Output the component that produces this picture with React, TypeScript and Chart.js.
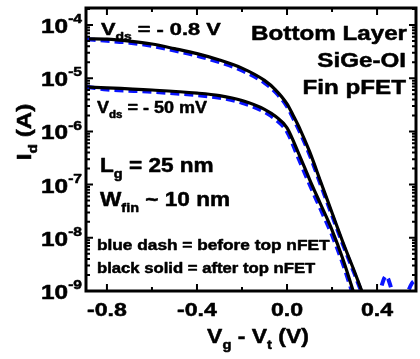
import React, { useEffect, useRef } from "react";
import { Chart, registerables } from "chart.js";
Chart.register(...registerables);

// ---- data (Vg - Vt in V, Id in A) ----
const vgAfter08 = [-0.88, -0.8, -0.7, -0.6, -0.5, -0.4, -0.3, -0.2, -0.1, -0.05, 0.0, 0.03, 0.06, 0.1, 0.15, 0.2, 0.25, 0.3, 0.35];
const idAfter08 = [5.5e-5, 5.43e-5, 5.0e-5, 4.4e-5, 3.6e-5, 2.9e-5, 2.2e-5, 1.55e-5, 9.1e-6, 6.0e-6, 3.3e-6, 1.9e-6, 1.05e-6, 4.2e-7, 1.12e-7, 2.95e-8, 7.9e-9, 2.3e-9, 6.3e-10];

const vgAfter50 = [-0.88, -0.8, -0.6, -0.4, -0.3, -0.2, -0.1, -0.05, 0.0, 0.05, 0.1, 0.15, 0.2, 0.25, 0.3];
const idAfter50 = [6.8e-6, 6.6e-6, 6.0e-6, 5.25e-6, 4.7e-6, 3.8e-6, 2.6e-6, 1.9e-6, 1.17e-6, 4.0e-7, 1.26e-7, 4.2e-8, 1.4e-8, 3.8e-9, 8.3e-10];

const vgBefore08 = [-0.89, -0.8, -0.7, -0.6, -0.5, -0.4, -0.3, -0.2, -0.1, -0.05, 0.0, 0.03, 0.06, 0.1, 0.15, 0.2, 0.25, 0.3, 0.35];
const idBefore08 = [5.4e-5, 5.05e-5, 4.65e-5, 4.05e-5, 3.3e-5, 2.65e-5, 2.0e-5, 1.4e-5, 8.2e-6, 5.4e-6, 2.95e-6, 1.68e-6, 9.2e-7, 3.7e-7, 9.9e-8, 2.65e-8, 7.2e-9, 2.1e-9, 5.8e-10];

const vgBefore50 = [-0.89, -0.8, -0.6, -0.4, -0.3, -0.2, -0.1, -0.05, 0.0, 0.05, 0.1, 0.15, 0.2, 0.25, 0.3, 0.34, 0.38, 0.41, 0.44, 0.47, 0.5, 0.53, 0.555, 0.575];
const idBefore50 = [6.9e-6, 6.15e-6, 5.55e-6, 4.8e-6, 4.3e-6, 3.45e-6, 2.33e-6, 1.67e-6, 9.9e-7, 3.2e-7, 1.02e-7, 3.4e-8, 1.13e-8, 3.1e-9, 7.0e-10, 2.5e-10, 3.2e-10, 8.9e-10, 1.9e-9, 8.9e-10, 3.2e-10, 7.9e-10, 1.4e-9, 1.6e-9];

const xMajorTicks = [-0.8, -0.4, 0.0, 0.4];
const xTickLabels = ["-0.8", "-0.4", "0.0", "0.4"];
const xMinorTicks = [-0.6, -0.2, 0.2];
const yExponents = [-9, -8, -7, -6, -5, -4];

const X_MIN = -0.893;
const X_MAX = 0.573;
const Y_MIN = 1e-9;
const Y_MAX = 2.09e-4;

const FONT = '"Liberation Sans", Arial, Helvetica, sans-serif';

type Seg = [string, "" | "sub" | "sup"];

function segFont(size: number, kind: string) {
  const s = kind === "" ? size : size * 0.64;
  return `bold ${s}px ${FONT}`;
}

function drawRich(
  ctx: CanvasRenderingContext2D,
  segs: Seg[],
  x: number,
  y: number,
  size: number,
  align: "left" | "right" | "center",
  sx: number
) {
  ctx.save();
  ctx.translate(x, y);
  ctx.scale(sx, 1);
  ctx.fillStyle = "#000";
  ctx.strokeStyle = "#000";
  ctx.lineWidth = 0.5;
  ctx.lineJoin = "round";
  ctx.textBaseline = "alphabetic";
  ctx.textAlign = "left";
  let w = 0;
  for (const [t, k] of segs) {
    ctx.font = segFont(size, k);
    w += ctx.measureText(t).width;
  }
  let cx = align === "left" ? 0 : align === "right" ? -w : -w / 2;
  for (const [t, k] of segs) {
    ctx.font = segFont(size, k);
    const dy = k === "sub" ? size * 0.3 : k === "sup" ? -size * 0.5 : 0;
    ctx.fillText(t, cx, dy);
    ctx.strokeText(t, cx, dy);
    cx += ctx.measureText(t).width;
  }
  ctx.restore();
}

const framePlugin = {
  id: "frameTicks",
  afterDatasetsDraw(chart: any) {
    const ctx: CanvasRenderingContext2D = chart.ctx;
    const { left, right, top, bottom } = chart.chartArea;
    const xs = chart.scales.x;
    const ys = chart.scales.y;
    ctx.save();
    ctx.strokeStyle = "#000";
    ctx.lineCap = "butt";
    ctx.lineWidth = 2;
    const vtick = (px: number, len: number) => {
      ctx.beginPath();
      ctx.moveTo(px, bottom);
      ctx.lineTo(px, bottom - len);
      ctx.moveTo(px, top);
      ctx.lineTo(px, top + len);
      ctx.stroke();
    };
    xMajorTicks.forEach((v) => vtick(xs.getPixelForValue(v), 7));
    xMinorTicks.forEach((v) => vtick(xs.getPixelForValue(v), 4));
    const htick = (py: number, len: number) => {
      if (py < top - 0.5 || py > bottom + 0.5) return;
      ctx.beginPath();
      ctx.moveTo(left, py);
      ctx.lineTo(left + len, py);
      ctx.moveTo(right, py);
      ctx.lineTo(right - len, py);
      ctx.stroke();
    };
    for (let e = -9; e <= -4; e++) {
      htick(ys.getPixelForValue(Math.pow(10, e)), 7);
      for (let k = 2; k <= 9; k++) {
        htick(ys.getPixelForValue(k * Math.pow(10, e)), 4);
      }
    }
    ctx.lineWidth = 3;
    ctx.strokeRect(left, top, right - left, bottom - top);
    ctx.restore();
  },
  afterDraw(chart: any) {
    const ctx: CanvasRenderingContext2D = chart.ctx;
    const xs = chart.scales.x;
    const ys = chart.scales.y;
    const { left } = chart.chartArea;
    const SX = 1.25;
    yExponents.forEach((e) => {
      const py = ys.getPixelForValue(Math.pow(10, e));
      drawRich(ctx, [["10", ""], [String(e), "sup"]], left - 4, py + 8, 19.5, "right", SX);
    });
    xMajorTicks.forEach((v, i) => {
      drawRich(ctx, [[xTickLabels[i], ""]], xs.getPixelForValue(v), 316, 18.5, "center", SX);
    });
    drawRich(ctx, [["V", ""], ["g", "sub"], [" - V", ""], ["t", "sub"], [" (V)", ""]], 258, 343, 20.5, "center", 1.12);
    ctx.save();
    ctx.translate(31, 132);
    ctx.rotate(-Math.PI / 2);
    drawRich(ctx, [["I", ""], ["d", "sub"], [" (A)", ""]], 0, 0, 21, "center", 1.15);
    ctx.restore();
    drawRich(ctx, [["V", ""], ["ds", "sub"], [" = - 0.8 V", ""]], 101, 35, 17, "left", 1.28);
    drawRich(ctx, [["V", ""], ["ds", "sub"], [" = - 50 mV", ""]], 97, 113, 17, "left", 1.06);
    drawRich(ctx, [["Bottom Layer", ""]], 407, 40, 20.5, "right", 1.18);
    drawRich(ctx, [["SiGe-OI", ""]], 406, 67, 20.5, "right", 1.18);
    drawRich(ctx, [["Fin pFET", ""]], 406, 94, 20.5, "right", 1.18);
    drawRich(ctx, [["L", ""], ["g", "sub"], [" = 25 nm", ""]], 100, 172, 20, "left", 1.13);
    drawRich(ctx, [["W", ""], ["fin", "sub"], [" ~ 10 nm", ""]], 100, 206, 20, "left", 1.13);
    drawRich(ctx, [["blue dash = before top nFET", ""]], 97, 250, 14.5, "left", 1.19);
    drawRich(ctx, [["black solid = after top nFET", ""]], 97, 273, 14.5, "left", 1.15);
  },
};

function pts(xs: number[], ys: number[]) {
  return xs.map((x, i) => ({ x, y: ys[i] }));
}

export default function App() {
  const ref = useRef<HTMLCanvasElement | null>(null);
  useEffect(() => {
    if (!ref.current) return;
    const common = {
      pointRadius: 0,
      fill: false,
      cubicInterpolationMode: "monotone" as const,
    };
    const chart = new Chart(ref.current, {
      type: "line",
      data: {
        datasets: [
          { ...common, label: "after -0.8V", data: pts(vgAfter08, idAfter08), borderColor: "#000", borderWidth: 3.2 },
          { ...common, label: "after -50mV", data: pts(vgAfter50, idAfter50), borderColor: "#000", borderWidth: 3.2 },
          { ...common, label: "before -0.8V", data: pts(vgBefore08, idBefore08), borderColor: "#0a14ff", borderWidth: 4, borderDash: [9, 5] },
          { ...common, label: "before -50mV", data: pts(vgBefore50, idBefore50), borderColor: "#0a14ff", borderWidth: 4, borderDash: [9, 5] },
        ],
      },
      options: {
        animation: false,
        responsive: true,
        maintainAspectRatio: false,
        layout: { padding: { left: 86, right: 4, top: 8, bottom: 68 } },
        plugins: { legend: { display: false }, tooltip: { enabled: false } },
        scales: {
          x: { type: "linear", min: X_MIN, max: X_MAX, display: false },
          y: { type: "logarithmic", min: Y_MIN, max: Y_MAX, display: false },
        },
      },
      plugins: [framePlugin],
    });
    return () => chart.destroy();
  }, []);
  return (
    <div style={{ position: "fixed", left: 0, top: 0, width: 420, height: 359, background: "#fff" }}>
      <canvas ref={ref} />
    </div>
  );
}
